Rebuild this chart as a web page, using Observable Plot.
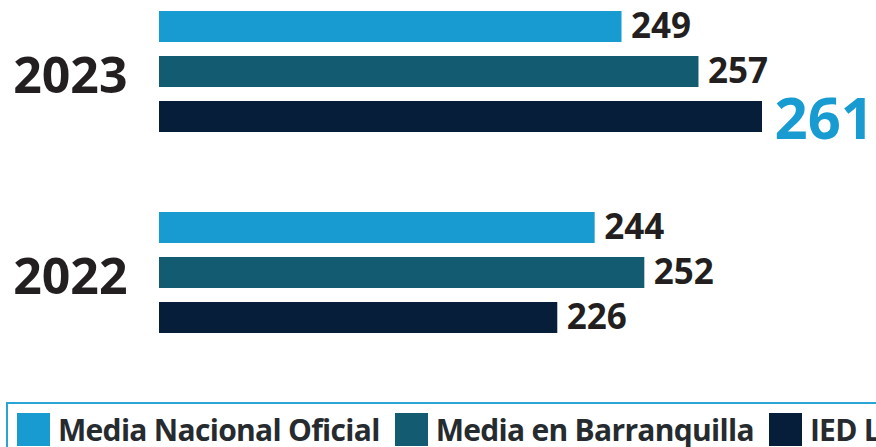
<!DOCTYPE html>
<html>
<head>
<meta charset="utf-8">
<script src="https://cdn.jsdelivr.net/npm/d3@7"></script>
<script src="https://cdn.jsdelivr.net/npm/@observablehq/plot@0.6"></script>
<style>
  html, body { margin: 0; padding: 0; background: #fff; width: 876px; height: 447px; overflow: hidden; }
  #chart svg { display: block; }
  .legend {
    margin-top: 2px; margin-left: 6px;
    border-top: 2px solid #2AA3D6; border-left: 2px solid #2AA3D6;
    padding: 9px 0 0 9px;
    white-space: nowrap; width: 1200px;
    font-family: "Open Sans", "Noto Sans", sans-serif; font-weight: 700;
    font-size: 30px; line-height: 30px; color: #262B2F; letter-spacing: -0.7px;
  }
  .legend .item { display: inline-flex; align-items: center; margin-right: 15px; }
  .legend .sw { width: 33px; height: 33px; margin-right: 8px; display: inline-block; }
</style>
</head>
<body>
<div id="chart"></div>
<div class="legend" id="legend"></div>
<script>
const years = ["2023", "2022"];
const series = ["Media Nacional Oficial", "Media en Barranquilla", "IED L"];
const values2023 = [249, 257, 261];
const values2022 = [244, 252, 226];
const colors = ["#189BD0", "#135B70", "#071E3B"];

const valuesByYear = {"2023": values2023, "2022": values2022};
const data = years.flatMap(year => series.map((s, i) => ({year, series: s, value: valuesByYear[year][i]})));
const maxValue = d3.max(data, d => d.value);
// the infographic exaggerates differences: a strongly convex (power) x scale
const xBase = -268;
const xExponent = 23;

const font = "'Open Sans', 'Noto Sans', sans-serif";

const chart = Plot.plot({
  width: 876,
  height: 400,
  marginLeft: 159,
  marginRight: 114,
  marginTop: 11,
  marginBottom: 67,
  style: {fontFamily: font, background: "#fff"},
  facet: {data, y: "year", marginTop: 0, marginRight: 0, marginBottom: 0, marginLeft: 0},
  x: {type: "pow", exponent: xExponent, domain: [xBase, maxValue], axis: null},
  y: {domain: series, axis: null, paddingInner: 0.311, paddingOuter: 0, align: 0, round: false},
  fy: {domain: years, axis: null, paddingInner: 0.398, paddingOuter: 0, align: 0, round: false},
  color: {domain: series, range: colors},
  marks: [
    Plot.barX(data, {y: "series", x1: xBase, x2: "value", fill: "series"}),
    Plot.text(data, {
      filter: d => d.value !== maxValue,
      y: "series", x: "value", text: d => String(d.value),
      dx: 9, textAnchor: "start", fontSize: 35, fontWeight: 700, fill: "#231F20"
    }),
    Plot.text(data, {
      filter: d => d.value === maxValue,
      y: "series", x: "value", text: d => String(d.value),
      dx: 12, dy: 3, textAnchor: "start", fontSize: 58, fontWeight: 700, fill: "#189BD0"
    }),
    Plot.text(data, {
      filter: d => d.series === series[1],
      y: "series", text: "year", frameAnchor: "left",
      dx: -32, dy: 5, textAnchor: "end", fontSize: 50, fontWeight: 700, fill: "#231F20"
    })
  ]
});
document.getElementById("chart").appendChild(chart);

const legend = document.getElementById("legend");
series.forEach((s, i) => {
  const item = document.createElement("span");
  item.className = "item";
  const sw = document.createElement("span");
  sw.className = "sw";
  sw.style.background = colors[i];
  const label = document.createElement("span");
  label.textContent = s;
  item.appendChild(sw);
  item.appendChild(label);
  legend.appendChild(item);
});
</script>
</body>
</html>
